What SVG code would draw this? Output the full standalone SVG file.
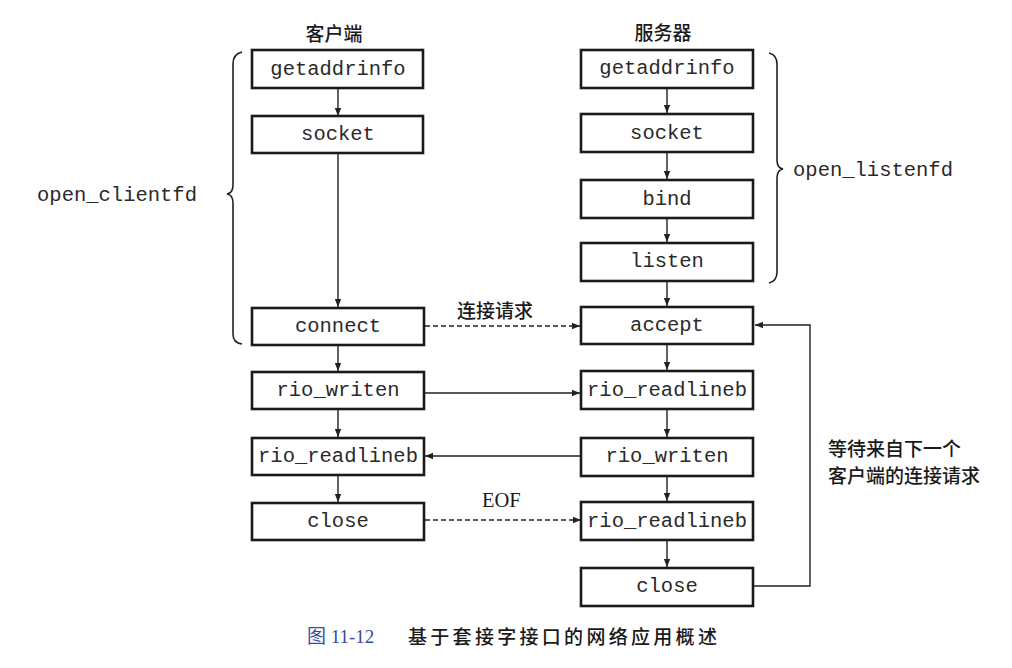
<svg xmlns="http://www.w3.org/2000/svg" width="1012" height="668" viewBox="0 0 1012 668">
<defs>
<style>
.box{fill:#fff;stroke:#1a1a1a;stroke-width:2.6}
.mono{font-family:"Liberation Mono","DejaVu Sans Mono",monospace;font-size:20.5px;fill:#2a2a2a;text-anchor:middle}
.lbl{font-family:"Noto Sans CJK SC","Noto Sans",sans-serif;font-size:19px;font-weight:500;fill:#1a1a1a}
.ln{fill:none;stroke:#222;stroke-width:1.4}
.dash{stroke-dasharray:5,3}
.brace{fill:none;stroke:#222;stroke-width:1.6}
</style>
<marker id="ah" viewBox="0 0 10 10" refX="10" refY="5" markerWidth="8" markerHeight="8" markerUnits="userSpaceOnUse" orient="auto">
<path d="M0,1 L10,5 L0,9 z" fill="#222"/>
</marker>
</defs>
<rect width="1012" height="668" fill="#fff"/>

<text class="lbl" x="334" y="41" text-anchor="middle">客户端</text>
<text class="lbl" x="663" y="40" text-anchor="middle">服务器</text>

<g id="connectors">
<line class="ln" x1="338" y1="88" x2="338" y2="116" marker-end="url(#ah)"/>
<line class="ln" x1="338" y1="153" x2="338" y2="307" marker-end="url(#ah)"/>
<line class="ln" x1="338" y1="345" x2="338" y2="371" marker-end="url(#ah)"/>
<line class="ln" x1="338" y1="409" x2="338" y2="437" marker-end="url(#ah)"/>
<line class="ln" x1="338" y1="475" x2="338" y2="502" marker-end="url(#ah)"/>
<line class="ln" x1="667" y1="88" x2="667" y2="113" marker-end="url(#ah)"/>
<line class="ln" x1="667" y1="152" x2="667" y2="179" marker-end="url(#ah)"/>
<line class="ln" x1="667" y1="218" x2="667" y2="242" marker-end="url(#ah)"/>
<line class="ln" x1="667" y1="281" x2="667" y2="306" marker-end="url(#ah)"/>
<line class="ln" x1="667" y1="344" x2="667" y2="370" marker-end="url(#ah)"/>
<line class="ln" x1="667" y1="409" x2="667" y2="437" marker-end="url(#ah)"/>
<line class="ln" x1="667" y1="476" x2="667" y2="501" marker-end="url(#ah)"/>
<line class="ln" x1="667" y1="540" x2="667" y2="567" marker-end="url(#ah)"/>
<line class="ln dash" x1="425" y1="326" x2="580" y2="326" marker-end="url(#ah)"/>
<line class="ln" x1="425" y1="393" x2="580" y2="393" marker-end="url(#ah)"/>
<line class="ln" x1="581" y1="456" x2="425" y2="456" marker-end="url(#ah)"/>
<line class="ln dash" x1="425" y1="520" x2="581" y2="520" marker-end="url(#ah)"/>
<polyline class="ln" points="754,586 810,586 810,325 755,325" marker-end="url(#ah)"/>
</g>

<g id="client-getaddrinfo"><rect class="box" x="252" y="50" width="171" height="38"/><text class="mono" x="338" y="75">getaddrinfo</text></g>
<g id="client-socket"><rect class="box" x="252" y="116" width="171" height="37"/><text class="mono" x="338" y="140">socket</text></g>
<g id="client-connect"><rect class="box" x="252" y="308" width="172" height="37"/><text class="mono" x="338" y="332">connect</text></g>
<g id="client-rio_writen"><rect class="box" x="252" y="372" width="172" height="37"/><text class="mono" x="338" y="396">rio_writen</text></g>
<g id="client-rio_readlineb"><rect class="box" x="252" y="438" width="172" height="37"/><text class="mono" x="338" y="462">rio_readlineb</text></g>
<g id="client-close"><rect class="box" x="252" y="503" width="172" height="37"/><text class="mono" x="338" y="527">close</text></g>

<g id="server-getaddrinfo"><rect class="box" x="581" y="50" width="172" height="38"/><text class="mono" x="667" y="74">getaddrinfo</text></g>
<g id="server-socket"><rect class="box" x="581" y="114" width="172" height="38"/><text class="mono" x="667" y="139">socket</text></g>
<g id="server-bind"><rect class="box" x="581" y="180" width="172" height="38"/><text class="mono" x="667" y="205">bind</text></g>
<g id="server-listen"><rect class="box" x="581" y="243" width="172" height="38"/><text class="mono" x="667" y="267">listen</text></g>
<g id="server-accept"><rect class="box" x="581" y="307" width="172" height="37"/><text class="mono" x="667" y="331">accept</text></g>
<g id="server-rio_readlineb1"><rect class="box" x="581" y="371" width="172" height="38"/><text class="mono" x="667" y="396">rio_readlineb</text></g>
<g id="server-rio_writen"><rect class="box" x="581" y="438" width="172" height="38"/><text class="mono" x="667" y="462">rio_writen</text></g>
<g id="server-rio_readlineb2"><rect class="box" x="581" y="502" width="172" height="38"/><text class="mono" x="667" y="527">rio_readlineb</text></g>
<g id="server-close"><rect class="box" x="581" y="568" width="172" height="38"/><text class="mono" x="667" y="592">close</text></g>

<g id="brace-client">
<path class="brace" d="M242,52 Q233,54 233,64 L233,185 Q233,193 227,194 Q233,195 233,203 L233,334 Q233,343 242,344"/>
<text class="mono" x="117" y="201">open_clientfd</text>
</g>
<g id="brace-server">
<path class="brace" d="M769,53 Q777,55 777,64 L777,160 Q777,168 783,169 Q777,170 777,178 L777,272 Q777,281 769,283"/>
<text class="mono" x="873" y="176">open_listenfd</text>
</g>

<text class="lbl" x="457" y="318">连接请求</text>
<text x="482" y="507" font-family="Liberation Serif,serif" font-size="20.5" fill="#1a1a1a">EOF</text>
<text class="lbl" x="828" y="456">等待来自下一个</text>
<text class="lbl" x="828" y="483">客户端的连接请求</text>

<text x="307" y="643" font-family="Liberation Serif,'Noto Sans CJK SC',serif" font-size="19" fill="#3b4a9c">图 11-12</text>
<text x="408" y="644" font-family="'Noto Sans CJK SC',sans-serif" font-size="19" font-weight="500" letter-spacing="3.3" fill="#1a1a1a">基于套接字接口的网络应用概述</text>
</svg>
